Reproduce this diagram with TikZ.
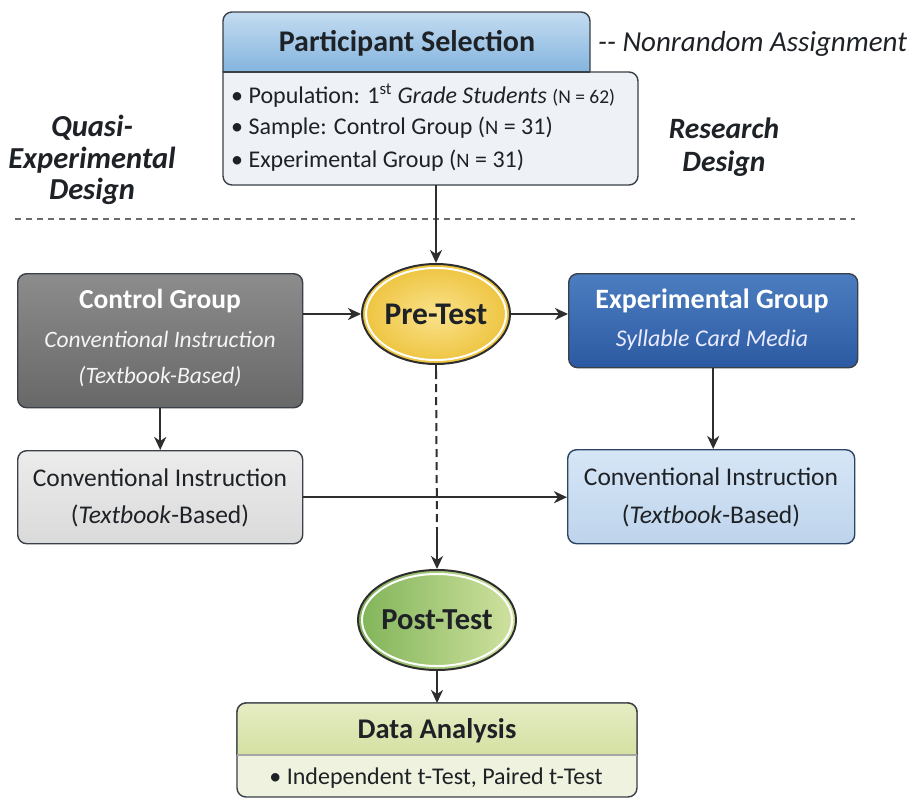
\documentclass[tikz,border=0pt]{standalone}
\usepackage{fontspec}
\setmainfont{Carlito}
\usetikzlibrary{arrows.meta,shapes.geometric,calc}
\definecolor{edge}{HTML}{3A4048}
\definecolor{arr}{HTML}{2E2E2E}
\definecolor{txt}{HTML}{1E2226}
\newcommand{\fsz}[1]{\fontsize{#1}{#1}\selectfont}
\tikzset{
  conn/.style={draw=arr, line width=2.4pt, -{Stealth[length=13pt,width=12pt,inset=4pt]}},
  plain/.style={draw=arr, line width=2.4pt},
  boxshape/.style={rounded corners=9pt, line width=1.4pt, draw=edge, inner sep=0pt, anchor=north west},
  oval/.style={ellipse, line width=2pt, draw=arr, inner sep=0pt},
  lbl/.style={inner sep=0pt, text=txt},
}
\begin{document}
\begin{tikzpicture}[x=1pt,y=-1pt]
\useasboundingbox[fill=white] (0,0) rectangle (921,798);

% ---------- Participant selection ----------
\draw[line width=1.4pt, draw=edge, fill={rgb,255:red,238;green,242;blue,247}] (223,72) [rounded corners=9pt] -- (638,72) -- (638,185) -- (223,185) [sharp corners] -- cycle;
\node[anchor=north west, minimum width=415pt, minimum height=113pt, inner sep=0pt] (psbody) at (223,72) {};
\shade[top color={rgb,255:red,196;green,220;blue,241}, bottom color={rgb,255:red,132;green,180;blue,222}]
  (223,72) [rounded corners=9pt] -- (223,12) -- (590,12) [sharp corners] -- (590,72) -- cycle;
\draw[line width=1.4pt, draw=edge] (223,72) [rounded corners=9pt] -- (223,12) -- (590,12) [sharp corners] -- (590,72);
\draw[line width=1.4pt, draw=edge] (223,72) -- (590,72);
\node[lbl, font=\fsz{30}\bfseries] (pshead) at (407,43) {Participant Selection};
\node[lbl, anchor=west, font=\fsz{24}] (l1) at (231,96) {\textbullet\ Population: 1\textsuperscript{st} \textit{Grade Students} {\fsz{19.5}(N = 62)}};
\node[lbl, anchor=west, font=\fsz{24}] (l2) at (231,128) {\textbullet\ Sample: Control Group ({\fsz{20.5}N} = 31)};
\node[lbl, anchor=west, font=\fsz{24}] (l3) at (231,161) {\textbullet\ Experimental Group ({\fsz{20.5}N} = 31)};

% ---------- side labels ----------
\node[lbl, anchor=west, font=\fsz{29}\itshape] (nonrand) at (598,44) {-{}- Nonrandom Assignment};
\node[lbl, font=\fsz{29.5}\bfseries\itshape, align=center] (resd) at (724,147) {Research\\[3pt]Design};
\node[lbl, font=\fsz{30.5}\bfseries\itshape, align=center] (quasi) at (92,160) {Quasi-\\[1pt]Experimental\\[1pt]Design};

% ---------- dashed separator ----------
\coordinate (sepL) at (15,219);
\coordinate (sepR) at (855,219);
\draw[draw=gray!85!black, line width=1.6pt, dash pattern=on 6pt off 5pt] (sepL) -- (sepR);

% ---------- middle row ----------
\node[boxshape, minimum width=285pt, minimum height=134pt,
  top color={rgb,255:red,140;green,140;blue,140}, bottom color={rgb,255:red,104;green,104;blue,104}] (ctrl) at (17,273) {};
\node[lbl, text=white, font=\fsz{27.5}\bfseries] (ctrlt) at (160,301) {Control Group};
\node[lbl, text=white!92!gray, font=\fsz{23.5}\itshape] (ctrl2) at (160,339) {Conventional Instruction};
\node[lbl, text=white!92!gray, font=\fsz{23.5}\itshape] (ctrl3) at (160,377) {(Textbook-Based)};

\node[oval, minimum width=148pt, minimum height=100pt, inner color={rgb,255:red,250;green,226;blue,140}, outer color={rgb,255:red,238;green,196;blue,62}] (pre) at (436,314) {};
\draw[white, line width=2pt] (pre.center) ellipse (70pt and 46pt);
\node[lbl, font=\fsz{31.5}\bfseries] (pret) at (pre.center) {Pre-Test};

\node[boxshape, minimum width=289pt, minimum height=94pt,
  top color={rgb,255:red,76;green,125;blue,192}, bottom color={rgb,255:red,44;green,90;blue,162}] (exp) at (568,273) {};
\node[lbl, text=white, font=\fsz{28}\bfseries] (expt) at (712,301) {Experimental Group};
\node[lbl, text=white!92!blue, font=\fsz{24}\itshape] (exp2) at (712,340) {Syllable Card Media};

% ---------- lower row ----------
\node[boxshape, minimum width=285pt, minimum height=93pt,
  top color={rgb,255:red,236;green,236;blue,236}, bottom color={rgb,255:red,218;green,218;blue,218}] (lci) at (17,450) {};
\node[lbl, font=\fsz{25.5}] (lci1) at (160,478) {Conventional Instruction};
\node[lbl, font=\fsz{25.5}] (lci2) at (160,516) {(\textit{Textbook}-Based)};

\node[boxshape, minimum width=287pt, minimum height=94pt,
  top color={rgb,255:red,214;green,230;blue,246}, bottom color={rgb,255:red,190;green,212;blue,236}, draw={rgb,255:red,45;green,68;blue,100}] (rci) at (567,449) {};
\node[lbl, font=\fsz{25.5}] (rci1) at (711,477) {Conventional Instruction};
\node[lbl, font=\fsz{25.5}] (rci2) at (711,516) {(\textit{Textbook}-Based)};

% ---------- post test ----------
\node[oval, minimum width=158pt, minimum height=100pt, left color={rgb,255:red,128;green,180;blue,88}, right color={rgb,255:red,208;green,226;blue,160}] (post) at (437,620) {};
\draw[white, line width=2pt] (post.center) ellipse (75pt and 46pt);
\node[lbl, font=\fsz{30.5}\bfseries] (postt) at (post.center) {Post-Test};

% ---------- data analysis ----------
\draw[line width=1.4pt, draw=edge, fill={rgb,255:red,238;green,242;blue,222}, rounded corners=9pt] (237,703) rectangle (637,797);
\node[anchor=north west, minimum width=400pt, minimum height=94pt, inner sep=0pt] (da) at (237,703) {};
\shade[top color={rgb,255:red,230;green,237;blue,196}, bottom color={rgb,255:red,212;green,224;blue,162}]
  (237,755) [rounded corners=9pt] -- (237,703) -- (637,703) [sharp corners] -- (637,755) -- cycle;
\draw[line width=1.4pt, draw=edge] (237,755) [rounded corners=9pt] -- (237,703) -- (637,703) [sharp corners] -- (637,755);
\draw[line width=1.2pt, draw=gray!70] (237,755) -- (637,755);
\node[lbl, font=\fsz{28.5}\bfseries] (dahead) at (437,731) {Data Analysis};
\node[lbl, font=\fsz{24}] (dabody) at (436,778) {\textbullet\ Independent t-Test, Paired t-Test};

% ---------- connectors ----------
\draw[conn] (psbody.south -| pre.north) -- (pre.north);
\draw[conn] (pre.west -| ctrl.east) -- (pre.west);
\draw[conn] (pre.east) -- (pre.east -| exp.west);
\draw[conn] (ctrl.south) -- (lci.north);
\draw[conn] (exp.south) -- (exp.south |- rci.north);
\draw[conn] (lci.east) -- (lci.east -| rci.west);
\coordinate (d1) at ($(pre.south)+(0,6)$);
\coordinate (d2) at ($(post.north)+(0,-40)$);
\draw[plain] (pre.south) -- (d1);
\draw[draw=arr, line width=2pt, dash pattern=on 8pt off 5pt] (d1) -- (d2);
\draw[conn] (d2) -- (post.north);
\draw[conn] (post.south) -- (da.north -| post.south);
\end{tikzpicture}
\end{document}
